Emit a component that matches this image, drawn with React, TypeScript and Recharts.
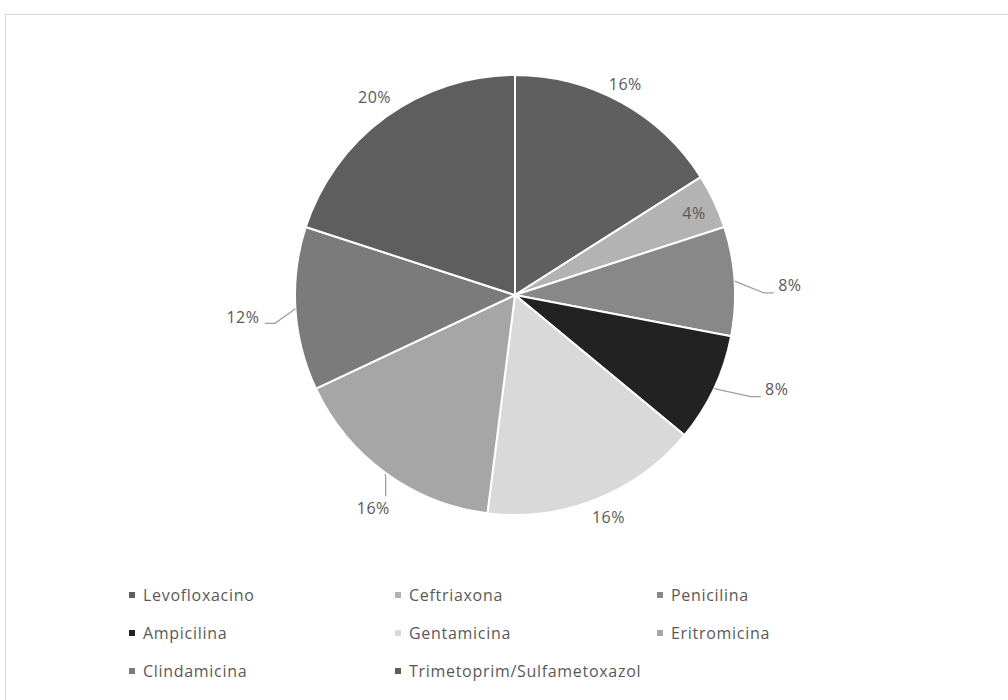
import React from 'react';
import { PieChart, Pie, Cell, Legend } from 'recharts';

const drugs = [
  'Levofloxacino',
  'Ceftriaxona',
  'Penicilina',
  'Ampicilina',
  'Gentamicina',
  'Eritromicina',
  'Clindamicina',
  'Trimetoprim/Sulfametoxazol',
];
const shares = [16, 4, 8, 8, 16, 16, 12, 20];
const colors = ['#5f5f5f', '#b3b3b3', '#888888', '#222222', '#d9d9d9', '#a6a6a6', '#7b7b7b', '#5e5e5e'];

// label placement: extra radius beyond the pie edge, angle nudge, leader line kind
const labelLayout = [
  { extra: 18, dAng: 1.2, line: '' },
  { extra: -23, dAng: -0.5, line: '' },
  { extra: 55, dAng: -1.5, line: 'right' },
  { extra: 58, dAng: 5.5, line: 'right' },
  { extra: 21, dAng: 1.2, line: '' },
  { extra: 36, dAng: 2.4, line: 'down' },
  { extra: 53, dAng: 1.1, line: 'left' },
  { extra: 23, dAng: -0.7, line: '' },
];

const data = drugs.map((name, i) => ({ name, value: shares[i] }));
const total = shares.reduce((a, b) => a + b, 0);

const RAD = Math.PI / 180;
const FONT = '"Open Sans", "Liberation Sans", sans-serif';
const TEXT = '#595959';
const LEADER = '#a0a0a0';

const polar = (cx: number, cy: number, r: number, ang: number) => ({
  x: cx + r * Math.cos(-ang * RAD),
  y: cy + r * Math.sin(-ang * RAD),
});

const renderLabel = (props: any) => {
  const { cx, cy, outerRadius, midAngle, index, value } = props;
  const lay = labelLayout[index];
  const p = polar(cx, cy, outerRadius + lay.extra, midAngle + lay.dAng);
  const s = polar(cx, cy, outerRadius, midAngle);
  const pct = `${Math.round((value / total) * 100)}%`;
  let pts = '';
  if (lay.line === 'down') {
    // short elbow so the polyline is never a zero-width box
    pts = `${s.x - 0.6},${s.y + 1} ${s.x},${s.y + 4} ${s.x},${p.y - 12}`;
  } else if (lay.line === 'right') {
    const ex = p.x - 16;
    const ey = p.y + 8;
    pts = `${s.x},${s.y} ${ex - 10},${ey} ${ex},${ey}`;
  } else if (lay.line === 'left') {
    const ex = p.x + 22;
    const ey = p.y + 6;
    pts = `${s.x},${s.y} ${ex + 10},${ey} ${ex},${ey}`;
  }
  return (
    <g key={`lbl-${index}`}>
      {pts && <polyline points={pts} stroke={LEADER} strokeWidth={1.3} fill="none" />}
      <text
        x={p.x}
        y={p.y}
        textAnchor="middle"
        dominantBaseline="central"
        fill={TEXT}
        fontSize={16}
        letterSpacing={0.5}
        fontFamily={FONT}
      >
        {pct}
      </text>
    </g>
  );
};

const legendCols = [129, 395, 657];
const legendRows = [595, 633, 671];

const renderLegend = () => (
  <div style={{ position: 'relative', width: 1008, height: 120 }}>
    {drugs.map((name, i) => {
      const col = i % 3;
      const row = Math.floor(i / 3);
      return (
        <div
          key={name}
          style={{
            position: 'absolute',
            left: legendCols[col],
            top: legendRows[row] - 570 - 11,
            height: 22,
            display: 'flex',
            alignItems: 'center',
            fontFamily: FONT,
            fontSize: 16,
            letterSpacing: 0.7,
            color: TEXT,
            whiteSpace: 'nowrap',
          }}
        >
          <span
            style={{ display: 'inline-block', width: 6, height: 6, background: colors[i], marginRight: 8 }}
          />
          {name}
        </div>
      );
    })}
  </div>
);

export default function App() {
  return (
    <div style={{ position: 'absolute', left: 0, top: 0, width: 1008, height: 700, background: '#fff', overflow: 'hidden' }}>
      <div
        style={{
          position: 'absolute',
          left: 5,
          top: 14,
          width: 1010,
          height: 700,
          border: '1px solid #d9d9d9',
          boxSizing: 'border-box',
        }}
      />
      <div style={{ position: 'absolute', left: 0, top: 0 }}>
        <PieChart width={1008} height={700} margin={{ top: 0, right: 0, bottom: 0, left: 0 }}>
          <Pie
            data={data}
            dataKey="value"
            nameKey="name"
            cx={515}
            cy={295}
            outerRadius={220}
            startAngle={90}
            endAngle={-270}
            stroke="#ffffff"
            strokeWidth={2}
            label={renderLabel}
            labelLine={false}
            isAnimationActive={false}
          >
            {data.map((d, i) => (
              <Cell key={d.name} fill={colors[i]} />
            ))}
          </Pie>
          <Legend
            content={renderLegend}
            wrapperStyle={{ position: 'absolute', left: 0, top: 570, width: 1008, height: 120 }}
          />
        </PieChart>
      </div>
    </div>
  );
}
